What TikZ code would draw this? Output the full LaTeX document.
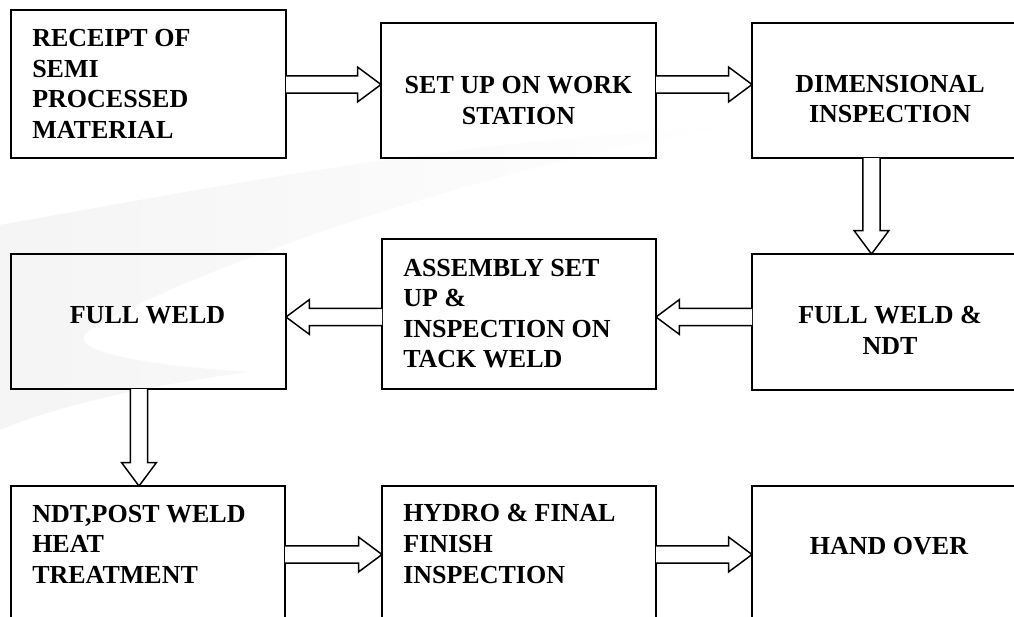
\documentclass[tikz,border=0pt]{standalone}
\usepackage{fontspec}
\setmainfont{Liberation Serif}
\usetikzlibrary{calc,fadings}
\tikzset{
  box/.style={draw=black, line width=1.5pt, rectangle, inner sep=0pt, outer sep=0pt, anchor=north west},
  lbl/.style={inner sep=0pt, font=\bfseries\fontsize{19.5pt}{22.9pt}\selectfont, text=black},
  barrow/.style={draw=black, fill=white, line width=1.1pt, line join=miter},
  swoosh/.style={fill=black!4, draw=none},
}
\newcommand\blockarrow[2]{%
  \path (#1) coordinate (ba-s) (#2) coordinate (ba-t);
  \path ($(ba-t)!17.6pt!(ba-s)$) coordinate (ba-h);
  \filldraw[barrow] ($(ba-s)!6.4pt!90:(ba-t)$) -- ($(ba-h)!6.4pt!90:(ba-t)$)
    -- ($(ba-h)!13.1pt!90:(ba-t)$) -- (ba-t) -- ($(ba-h)!13.1pt!-90:(ba-t)$)
    -- ($(ba-h)!6.4pt!-90:(ba-t)$) -- ($(ba-s)!6.4pt!-90:(ba-t)$);
}
\begin{document}
\begin{tikzpicture}[x=0.75pt, y=-0.75pt]
\path[use as bounding box] (0,0) rectangle (1014,617);
\fill[white] (0,0) rectangle (1014,617);
\clip (0,0) rectangle (1014,617);

% faint background swoosh
\fill[swoosh, path fading=east] (0,225) .. controls (200,190) and (450,140) .. (720,128)
  .. controls (450,175) and (170,280) .. (90,330)
  .. controls (60,350) and (140,365) .. (250,372)
  .. controls (150,385) and (60,405) .. (0,430) -- cycle;

% boxes
\node[box, minimum width=206.25pt, minimum height=111pt] (b1) at (11,10) {};
\node[box, minimum width=206.25pt, minimum height=101.25pt] (b2) at (381,23) {};
\node[box, minimum width=208.5pt, minimum height=101.25pt] (b3) at (752,23) {};
\node[box, minimum width=208.5pt, minimum height=102pt] (b4) at (752,254) {};
\node[box, minimum width=205.5pt, minimum height=112.5pt] (b5) at (382,239) {};
\node[box, minimum width=206.25pt, minimum height=101.25pt] (b6) at (11,254) {};
\node[box, minimum width=205.5pt, minimum height=108pt] (b7) at (11,486) {};
\node[box, minimum width=205.5pt, minimum height=108pt] (b8) at (382,486) {};
\node[box, minimum width=208.5pt, minimum height=108pt] (b9) at (752,486) {};

% texts
\node[lbl, anchor=west, align=left] (t1) at (32,84) {RECEIPT OF\\SEMI\\PROCESSED\\MATERIAL};
\node[lbl, align=center] (t2) at (518.5,100.5) {SET UP ON WORK\\STATION};
\node[lbl, align=center] (t3) at (890,99) {DIMENSIONAL\\INSPECTION};
\node[lbl, align=center] (t4) at (890,330.5) {FULL WELD \&\\NDT};
\node[lbl, anchor=west, align=left] (t5) at (403,313.5) {ASSEMBLY SET\\UP \&\\INSPECTION ON\\TACK WELD};
\node[lbl, align=center] (t6) at (147.5,315) {FULL WELD};
\node[lbl, anchor=west, align=left] (t7) at (32,544) {NDT,POST WELD\\HEAT\\TREATMENT};
\node[lbl, anchor=west, align=left] (t8) at (403,544) {HYDRO \& FINAL\\FINISH\\INSPECTION};
\node[lbl, align=center] (t9) at (889,546) {HAND OVER};

% arrow guide coordinates
\coordinate (r1) at (0,84.5);
\coordinate (r2) at (0,317);
\coordinate (r3) at (0,554.5);
\coordinate (c1) at (871.5,0);
\coordinate (c2) at (139,0);

\blockarrow{b1.east |- r1}{b2.west |- r1}
\blockarrow{b2.east |- r1}{b3.west |- r1}
\blockarrow{b3.south -| c1}{b4.north -| c1}
\blockarrow{b4.west |- r2}{b5.east |- r2}
\blockarrow{b5.west |- r2}{b6.east |- r2}
\blockarrow{b6.south -| c2}{b7.north -| c2}
\blockarrow{b7.east |- r3}{b8.west |- r3}
\blockarrow{b8.east |- r3}{b9.west |- r3}
\end{tikzpicture}
\end{document}
